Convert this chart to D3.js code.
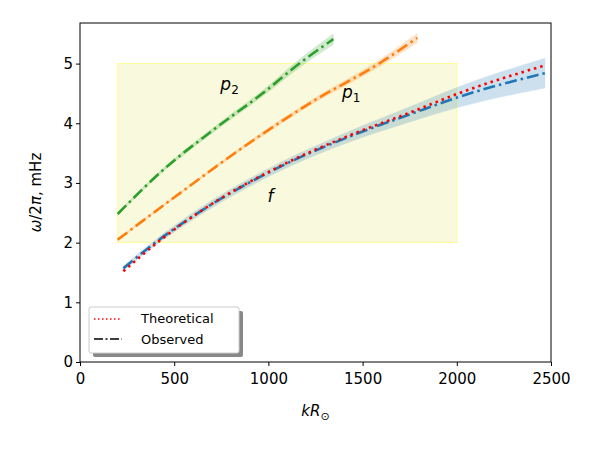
<!DOCTYPE html>
<html><head><meta charset="utf-8">
<script src="https://cdn.jsdelivr.net/npm/d3@7"></script>
<style>body{margin:0;background:#fff}text{font-family:"DejaVu Sans",sans-serif}</style>
</head><body><svg id="chart" width="600" height="450"></svg>
<script>
// values
const fX = [230, 442, 637, 1061, 1433, 1769, 2000, 2468];
const fObs = [1.57, 2.10, 2.52, 3.27, 3.78, 4.17, 4.43, 4.84];
const fTheo = [1.52, 2.08, 2.52, 3.28, 3.80, 4.20, 4.49, 4.97];
const fErr = [0.04, 0.05, 0.06, 0.07, 0.09, 0.13, 0.17, 0.25];
const p1X = [200, 531, 885, 1238, 1592, 1790];
const p1Obs = [2.05, 2.83, 3.64, 4.37, 5.01, 5.43];
const p1Err = [0.02, 0.02, 0.03, 0.04, 0.06, 0.08];
const p2X = [200, 442, 708, 973, 1168, 1345];
const p2Obs = [2.48, 3.22, 3.89, 4.51, 5.01, 5.41];
const p2Err = [0.02, 0.03, 0.04, 0.05, 0.07, 0.09];
const xTicks = [0, 500, 1000, 1500, 2000, 2500];
const yTicks = [0, 1, 2, 3, 4, 5];

const svg = d3.select("#chart");
const m = {l: 80, r: 49, t: 23, b: 88};
const W = 600 - m.l - m.r, H = 450 - m.t - m.b;
const x = d3.scaleLinear().domain([0, 2500]).range([0, W]);
const y = d3.scaleLinear().domain([0, 5.68]).range([H, 0]);
const g = svg.append("g").attr("transform", `translate(${m.l},${m.t})`);

// highlighted region
g.append("rect").attr("x", x(200)).attr("y", y(5))
  .attr("width", x(2000) - x(200)).attr("height", y(2) - y(5))
  .attr("fill", "rgba(240,240,170,0.4)").attr("stroke", "#ffff80").attr("stroke-width", 0.8);

const line = d3.line().x(d => x(d[0])).y(d => y(d[1])).curve(d3.curveMonotoneX);
const area = d3.area().x(d => x(d[0])).y0(d => y(d[1] - d[2])).y1(d => y(d[1] + d[2])).curve(d3.curveMonotoneX);

function mode(xs, ys, es, color) {
  const pts = xs.map((v, i) => [v, ys[i], es[i]]);
  g.append("path").attr("d", area(pts)).attr("fill", color).attr("opacity", 0.22)
    .attr("stroke", color).attr("stroke-opacity", 0.4);
  g.append("path").attr("d", line(pts)).attr("fill", "none").attr("stroke", color)
    .attr("stroke-width", 2.6).attr("stroke-dasharray", "12,4,2.5,4");
}
mode(fX, fObs, fErr, "#1f77b4");
mode(p1X, p1Obs, p1Err, "#ff7f0e");
mode(p2X, p2Obs, p2Err, "#2ca02c");
g.append("path").attr("d", line(fX.map((v, i) => [v, fTheo[i]]))).attr("fill", "none")
  .attr("stroke", "red").attr("stroke-width", 2.6).attr("stroke-dasharray", "2.5,4");

// mode labels
const lab = (px, py, name, sub) => {
  const t = g.append("text").attr("x", x(px)).attr("y", y(py)).attr("font-size", 17).attr("font-style", "italic").text(name);
  if (sub) t.append("tspan").attr("font-style", "normal").attr("font-size", 12).attr("dy", 4).text(sub);
};
lab(745, 4.55, "p", "2");
lab(1390, 4.42, "p", "1");
lab(995, 2.68, "f");

// axes
const xa = g.append("g").attr("transform", `translate(0,${H})`)
  .call(d3.axisBottom(x).tickValues(xTicks).tickFormat(d3.format("d")).tickSizeOuter(0).tickSize(4));
const ya = g.append("g").call(d3.axisLeft(y).tickValues(yTicks).tickFormat(d3.format("d")).tickSizeOuter(0).tickSize(4));
[xa, ya].forEach(a => { a.selectAll("text").attr("font-size", 15).attr("fill", "#000"); a.select(".domain").remove(); });
xa.selectAll("text").attr("dy", "1.0em");
g.append("rect").attr("width", W).attr("height", H).attr("fill", "none").attr("stroke", "#000").attr("stroke-width", 1);

svg.append("text").attr("x", m.l + W / 2).attr("y", 416).attr("text-anchor", "middle").attr("font-size", 15)
  .html('<tspan font-style="italic">kR</tspan><tspan font-size="11" dy="4">⊙</tspan>');
svg.append("text").attr("transform", `translate(41,${m.t + H / 2}) rotate(-90)`).attr("text-anchor", "middle")
  .attr("font-size", 15).html('<tspan font-style="italic">ω</tspan>/2<tspan font-style="italic">π</tspan>, mHz');

// legend
const lg = svg.append("g").attr("transform", "translate(89,307)");
lg.append("rect").attr("x", 4).attr("y", 4).attr("width", 150).attr("height", 46).attr("rx", 2).attr("fill", "#888");
lg.append("rect").attr("width", 150).attr("height", 46).attr("rx", 2).attr("fill", "#fff").attr("stroke", "#ccc");
lg.append("line").attr("x1", 5).attr("x2", 33).attr("y1", 12).attr("y2", 12).attr("stroke", "red")
  .attr("stroke-width", 1.5).attr("stroke-dasharray", "1.5,2.5");
lg.append("line").attr("x1", 5).attr("x2", 33).attr("y1", 32).attr("y2", 32).attr("stroke", "#000")
  .attr("stroke-width", 1.5).attr("stroke-dasharray", "9,2.5,2,2.5");
lg.append("text").attr("x", 52).attr("y", 16).attr("font-size", 13).text("Theoretical");
lg.append("text").attr("x", 52).attr("y", 37).attr("font-size", 13).text("Observed");
</script></body></html>
